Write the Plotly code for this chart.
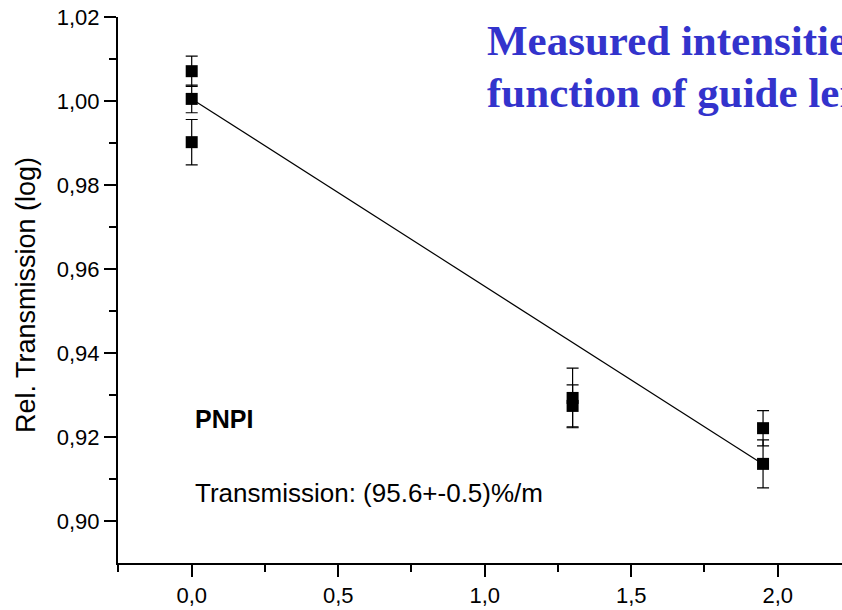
import plotly.graph_objects as go

# Data
x_pts = [0.0, 0.0, 0.0, 1.3, 1.3, 1.95, 1.95]
y_pts = [1.0071, 1.0005, 0.9902, 0.9293, 0.9274, 0.9221, 0.9136]
y_err = [0.0036, 0.0033, 0.0054, 0.0071, 0.0050, 0.0042, 0.0057]
fit_x = [0.0, 1.95]
fit_y = [1.0005, 0.9135]

x_tickvals = [0.0, 0.5, 1.0, 1.5, 2.0]
x_ticktext = ["0,0", "0,5", "1,0", "1,5", "2,0"]
x_minorvals = [-0.25, 0.25, 0.75, 1.25, 1.75]
y_tickvals = [0.90, 0.92, 0.94, 0.96, 0.98, 1.00, 1.02]
y_ticktext = ["0,90", "0,92", "0,94", "0,96", "0,98", "1,00", "1,02"]
y_minorvals = [0.91, 0.93, 0.95, 0.97, 0.99, 1.01]
title_lines = ["Measured intensities as a", "function of guide length"]

W, H = 842, 610
L, R, T, B = 118, 0, 17, 47
PW, PH = W - L - R, H - T - B

fig = go.Figure()
fig.add_trace(go.Scatter(x=fit_x, y=fit_y, mode="lines",
                         line=dict(color="black", width=1.2), showlegend=False))
fig.add_trace(go.Scatter(x=x_pts, y=y_pts, mode="markers",
                         marker=dict(symbol="square", size=12, color="black"),
                         error_y=dict(type="data", array=y_err, color="black",
                                      thickness=1.2, width=6),
                         showlegend=False))

sans = "Liberation Sans, Arial"
axis_font = dict(family=sans, size=22, color="black")
fig.update_xaxes(range=[(L - 191.7) / 293.0, (W - 191.7) / 293.0],
                 tickvals=x_tickvals, ticktext=x_ticktext,
                 showgrid=False, zeroline=False, showline=True, linecolor="black",
                 linewidth=2, ticks="outside", ticklen=12, tickwidth=2, tickcolor="black",
                 tickfont=axis_font,
                 minor=dict(tickvals=x_minorvals, ticks="outside",
                            ticklen=7, tickwidth=2, tickcolor="black"))
fig.update_yaxes(range=[0.89, 1.02], tickvals=y_tickvals, ticktext=y_ticktext,
                 showgrid=False, zeroline=False, showline=True, linecolor="black",
                 linewidth=2, ticks="outside", ticklen=12, tickwidth=2, tickcolor="black",
                 tickfont=axis_font,
                 minor=dict(tickvals=y_minorvals, ticks="outside",
                            ticklen=7, tickwidth=2, tickcolor="black"))

def px_x(p):
    return (p - L) / PW

def px_y(p):
    return (H - B - p) / PH

fig.add_annotation(x=px_x(26), y=px_y(295), xref="paper", yref="paper",
                   text="Rel. Transmission (log)", textangle=-90, showarrow=False,
                   xanchor="center", yanchor="middle",
                   font=dict(family=sans, size=27, color="black"))
fig.add_annotation(x=0.003, y=0.9243, xref="x", yref="y", text="<b>PNPI</b>",
                   showarrow=False, xanchor="left", yanchor="middle",
                   font=dict(family=sans, size=25, color="black"))
fig.add_annotation(x=0.003, y=0.9066, xref="x", yref="y", text="Transmission: (95.6+-0.5)%/m",
                   showarrow=False, xanchor="left", yanchor="middle",
                   font=dict(family=sans, size=26, color="black"))
for line, top in zip(title_lines, [15, 67]):
    fig.add_annotation(x=px_x(485), y=px_y(top), xref="paper", yref="paper",
                       text="<b>" + line + "</b>",
                       showarrow=False, xanchor="left", yanchor="top", align="left",
                       font=dict(family="Liberation Serif, Times New Roman", size=43,
                                 color="#3333CC"))

fig.update_layout(width=W, height=H, margin=dict(l=L, r=R, t=T, b=B),
                  plot_bgcolor="white", paper_bgcolor="white")

fig.write_html("out.html")
